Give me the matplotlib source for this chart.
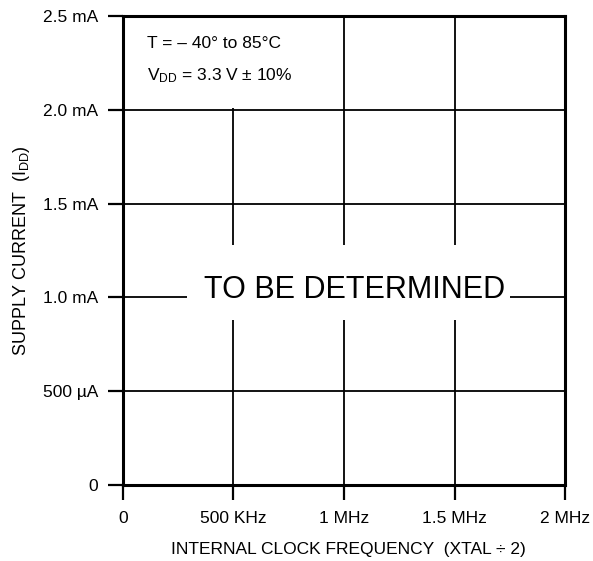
import matplotlib as mpl
mpl.use('Agg')
import matplotlib.pyplot as plt
from matplotlib.patches import Rectangle

# axis data (frequency in MHz, current in mA)
freq_ticks = [0, 0.5, 1.0, 1.5, 2.0]
freq_labels = ['0', '500 KHz', '1 MHz', '1.5 MHz', '2 MHz']
curr_ticks = [0, 0.5, 1.0, 1.5, 2.0, 2.5]
curr_labels = ['0', '500 \u00b5A', '1.0 mA', '1.5 mA', '2.0 mA', '2.5 mA']
conditions = ['T = \u2013 40\u00b0 to 85\u00b0C', 'V$_{\\rm DD}$ = 3.3 V \u00b1 10%']
cond_pos = [(0.11, 2.355), (0.11, 2.18)]
note = 'TO BE DETERMINED'

plt.rcParams['font.family'] = ['Liberation Sans', 'DejaVu Sans']
plt.rcParams['mathtext.fontset'] = 'custom'
plt.rcParams['mathtext.rm'] = 'Liberation Sans'
plt.rcParams['mathtext.it'] = 'Liberation Sans'

fig = plt.figure(figsize=(5.93, 5.61), dpi=100)
ax = fig.add_axes([0.2074, 0.1355, 0.7454, 0.836])

ax.set_xlim(0, 2.0)
ax.set_ylim(0, 2.5)
ax.set_xticks(freq_ticks)
ax.set_xticklabels(freq_labels)
ax.set_yticks(curr_ticks)
ax.set_yticklabels(curr_labels)
ax.tick_params(axis='both', direction='out', length=11, width=1.6,
               labelsize=12.5, color='black')
ax.tick_params(axis='x', pad=8)
ax.tick_params(axis='y', pad=7)

for s in ax.spines.values():
    s.set_linewidth(2.2)

ax.set_axisbelow(True)
ax.grid(True, color='black', linewidth=1.3)

# white masks over the grid
ax.add_patch(Rectangle((0, 2.008), 0.8, 0.49, facecolor='white', edgecolor='none', zorder=1))
ax.add_patch(Rectangle((0.29, 0.88), 1.46, 0.40, facecolor='white', edgecolor='none', zorder=1))

for (x, y), t in zip(cond_pos, conditions):
    ax.text(x, y, t, fontsize=12.5, ha='left', va='center', zorder=3)

ax.text(1.05, 1.04, note, fontsize=22, ha='center', va='center', zorder=3)

ax.set_xlabel('INTERNAL CLOCK FREQUENCY  (XTAL \u00f7 2)', fontsize=12.5)
ax.xaxis.set_label_coords(0.51, -0.122)
ax.set_ylabel('SUPPLY CURRENT  (I$_{\\rm DD}$)', fontsize=13)
ax.yaxis.set_label_coords(-0.205, 0.5)

plt.savefig('out.png', dpi=100)
